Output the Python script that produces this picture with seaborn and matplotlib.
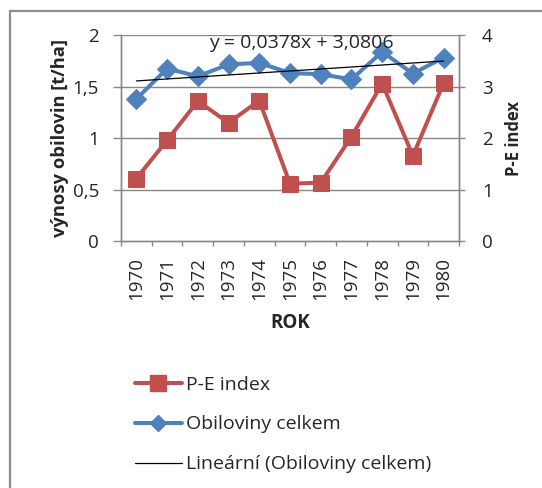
import numpy as np
import pandas as pd
import matplotlib
matplotlib.use("Agg")
import matplotlib.pyplot as plt
import seaborn as sns
from matplotlib.lines import Line2D

years = [1970, 1971, 1972, 1973, 1974, 1975, 1976, 1977, 1978, 1979, 1980]
obiloviny = [1.38, 1.675, 1.60, 1.715, 1.73, 1.632, 1.62, 1.57, 1.837, 1.626, 1.782]
pe_index = [1.22, 1.96, 2.72, 2.30, 2.73, 1.12, 1.14, 2.03, 3.06, 1.66, 3.07]
left_ticks = [0, 0.5, 1, 1.5, 2]
left_labels = ["0", "0,5", "1", "1,5", "2"]
right_ticks = [0, 1, 2, 3, 4]
equation = "y = 0,0378x + 3,0806"

sns.set_theme(style="white")
plt.rcParams['font.family'] = ['Open Sans', 'DejaVu Sans']

W, H = 542, 488
fig = plt.figure(figsize=(W/100, H/100), dpi=100)
ax = fig.add_axes([121/W, 1-241.5/H, (459-121)/W, (241.5-35)/H])
ax2 = ax.twinx()

red = "#C0504D"
blue = "#4F81BD"
grid_c = "#878787"

df = pd.DataFrame({"rok": years, "obiloviny": obiloviny, "pe": pe_index})

# trend line (linear fit of Obiloviny celkem)
x_idx = np.arange(len(years))
coef = np.polyfit(x_idx, obiloviny, 1)
df["trend"] = np.polyval(coef, x_idx)

# secondary axis: P-E index
sns.lineplot(data=df, x="rok", y="pe", ax=ax2, color=red, lw=2.9,
             marker="s", markersize=12, markeredgecolor=red, legend=False)
ax2.set_ylim(0, 4)
ax2.set_yticks(right_ticks)
ax2.set_yticklabels([str(t) for t in right_ticks], fontsize=13.5)
ax2.set_ylabel("P-E index", fontsize=12, fontweight="bold", labelpad=9)
ax2.tick_params(axis="y", direction="out", length=4.5, color=grid_c, width=1, pad=12, right=True)

# primary axis on top of secondary
ax.set_zorder(ax2.get_zorder() + 1)
ax.patch.set_visible(False)

sns.lineplot(data=df, x="rok", y="obiloviny", ax=ax, color=blue, lw=2.9,
             marker="D", markersize=10, markeredgecolor=blue, legend=False)
sns.lineplot(data=df, x="rok", y="trend", ax=ax, color="black", lw=0.9, legend=False)

ax.set_xlim(1969.5, 1980.5)
ax.set_ylim(0, 2)
ax.set_yticks(left_ticks)
ax.set_yticklabels(left_labels, fontsize=13.5)
ax.set_xticks(years)
ax.set_xticklabels([str(y) for y in years], rotation=90, fontsize=13.5)
ax.set_xticks(np.arange(1969.5, 1981.0, 1.0), minor=True)
ax.tick_params(axis="x", which="major", length=0, pad=11.5)
ax.tick_params(axis="x", which="minor", bottom=True, direction="out", length=3.8, color=grid_c, width=1)
ax.tick_params(axis="y", direction="out", length=5.8, color=grid_c, width=1, pad=10, left=True)
ax.set_xlabel("ROK", fontsize=13.5, fontweight="bold", labelpad=9)
ax.set_ylabel("výnosy obilovin [t/ha]", fontsize=13.2, fontweight="bold", labelpad=3)

for a in (ax, ax2):
    for s in a.spines.values():
        s.set_color(grid_c)
        s.set_linewidth(1)
    a.spines["top"].set_visible(False)

for t in [0.5, 1, 1.5, 2]:
    ax2.axhline(t * 2, color=grid_c, lw=1, zorder=0)

ax.text(1975.36, 1.925, equation, ha="center", va="center", fontsize=14)

handles = [
    Line2D([], [], color=red, lw=2.9, marker="s", markersize=12, markeredgecolor=red),
    Line2D([], [], color=blue, lw=2.9, marker="D", markersize=8, markeredgecolor=blue),
    Line2D([], [], color="black", lw=0.9),
]
labels = ["P-E index", "Obiloviny celkem", "Lineární (Obiloviny celkem)"]
fig.legend(handles, labels, loc="upper left", bbox_to_anchor=(135/W, 1-375.5/H),
           frameon=False, fontsize=14, labelspacing=1.13, handlelength=2.4,
           handletextpad=0.2, borderaxespad=0, borderpad=0)

# chart border
fig.add_artist(Line2D([9.5/W, 1.0], [1-10.5/H, 1-10.5/H], color="#8c8c8c", lw=1.6, transform=fig.transFigure))
fig.add_artist(Line2D([9.5/W, 9.5/W], [0, 1-10.5/H], color="#8c8c8c", lw=1.6, transform=fig.transFigure))

fig.savefig("out.png", dpi=100)
